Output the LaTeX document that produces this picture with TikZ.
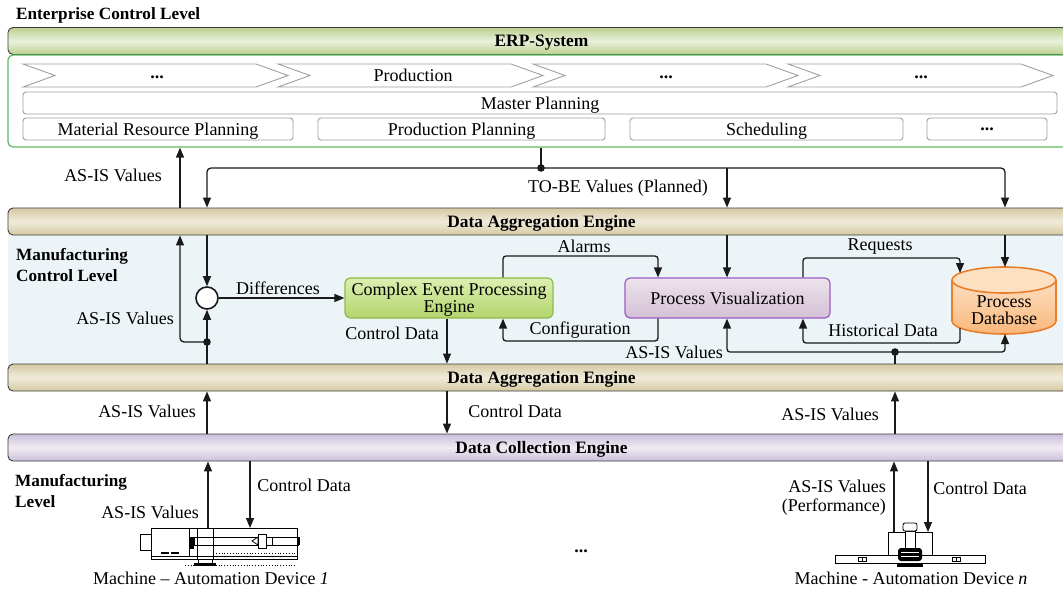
\documentclass[tikz,border=0pt]{standalone}
\usepackage{fontspec}
\setmainfont{Liberation Serif}
\usetikzlibrary{arrows.meta}
\definecolor{linec}{HTML}{1A1A1A}
\definecolor{erpA}{HTML}{BCD18F}
\definecolor{erpB}{HTML}{E9F0DA}
\definecolor{eclgreen}{HTML}{5DBB63}
\definecolor{daeA}{HTML}{D6CAA3}
\definecolor{daeB}{HTML}{F0EADA}
\definecolor{dceA}{HTML}{CBBFDA}
\definecolor{dceB}{HTML}{EFEBF4}
\definecolor{mcbg}{HTML}{EDF4F8}
\definecolor{cepA}{HTML}{DCEFB2}
\definecolor{cepB}{HTML}{B3D56C}
\definecolor{cepD}{HTML}{8DBB4A}
\definecolor{pvA}{HTML}{EDE3EC}
\definecolor{pvB}{HTML}{D3C1D6}
\definecolor{pvD}{HTML}{9B5BC6}
\definecolor{dbA}{HTML}{FDDFC2}
\definecolor{dbB}{HTML}{F9B77A}
\definecolor{dbD}{HTML}{E97E2C}
\definecolor{boxgray}{HTML}{A0A0A0}
\tikzset{
  bar/.style={draw=linec!85, line width=0.9pt, rounded corners=5pt, minimum width=1067pt,
    minimum height=27pt, inner sep=0pt, text depth=0pt, font=\bfseries\fontsize{17.4}{20}\selectfont},
  arr/.style={draw=linec, line width=1.3pt, -{Triangle[length=10pt,width=8pt]}},
  ln/.style={draw=linec, line width=1.3pt},
  lbl/.style={inner sep=0pt, text=black, text depth=0pt},
  mlbl/.style={inner sep=0pt, text=black, align=center, font=\fontsize{18}{17}\selectfont},
  blbl/.style={inner sep=0pt, text=black, font=\bfseries\fontsize{17.2}{21}\selectfont, align=left},
  pbox/.style={draw=boxgray, line width=0.9pt, rounded corners=3pt, fill=white,
    minimum height=22pt, inner sep=0pt, text depth=0pt},
  chev/.style={draw=boxgray, line width=0.9pt, fill=white},
  mach/.style={draw=black, line width=0.8pt},
}
\begin{document}
\begin{tikzpicture}[x=1pt,y=-1pt, font=\fontsize{18}{19}\selectfont]
\useasboundingbox (0,0) rectangle (1063,592);
\clip (0,0) rectangle (1063,592);

% column / row coordinates
\coordinate (x180) at (180,0);
\coordinate (x207) at (207,0);
\coordinate (x447) at (447,0);
\coordinate (x503) at (503,0);
\coordinate (x541) at (541,0);
\coordinate (x658) at (658,0);
\coordinate (x727) at (727,0);
\coordinate (x803) at (803,0);
\coordinate (x895) at (895,0);
\coordinate (x960) at (960,0);
\coordinate (x1005) at (1005,0);
\coordinate (y256) at (0,256);
\coordinate (y258) at (0,258);
\coordinate (y341) at (0,341);
\coordinate (y343) at (0,343);

% ---------------- Enterprise control level
\node[blbl, anchor=west, text depth=0pt] (ecltitle) at (16,14) {Enterprise Control Level};
\node[bar, top color=erpA, bottom color=erpA, middle color=erpB] (erp) at (541.5,41) {ERP-System};
\node[draw=eclgreen, line width=1.2pt, rounded corners=5pt, minimum width=1067pt,
      minimum height=92pt, inner sep=0pt] (ecl) at (541.5,101) {};

% chevrons
\foreach \L in {23,278,533,788}{
  \draw[chev] (\L,64) -- (\L+233,64) -- (\L+265,75.5) -- (\L+233,87) -- (\L,87) -- (\L+32,75.5) -- cycle;
}
\node[lbl] (ch1) at (157,77) {\textbf{...}};
\node[lbl] (ch2) at (413,75.5) {Production};
\node[lbl] (ch3) at (666,77) {\textbf{...}};
\node[lbl] (ch4) at (921,77) {\textbf{...}};

\node[pbox, minimum width=1034pt] (mp) at (540,103) {Master Planning};
\node[pbox, minimum width=270pt] (mrp) at (158,129) {Material Resource Planning};
\node[pbox, minimum width=287pt] (pp) at (461.5,129) {Production Planning};
\node[pbox, minimum width=273pt] (sch) at (766.5,129) {Scheduling};
\node[pbox, minimum width=120pt] (pdots) at (987,129) {\textbf{...}};

% ---------------- Manufacturing control level
\fill[mcbg] (8,235) rectangle (1075,364);
\node[bar, top color=daeA, bottom color=daeA, middle color=daeB] (dae1) at (541.5,221.5) {Data Aggregation Engine};
\node[bar, top color=daeA, bottom color=daeA, middle color=daeB] (dae2) at (541.5,377.5) {Data Aggregation Engine};
\node[bar, top color=dceA, bottom color=dceA, middle color=dceB] (dce) at (541.5,447.5) {Data Collection Engine};

\node[blbl, anchor=west] (mcl) at (16,265) {Manufacturing\\Control Level};

% AS-IS up to ERP, TO-BE down
\draw[arr] (x180 |- dae1.north) -- (x180 |- ecl.south);
\node[lbl] (l1) at (113,175) {AS-IS Values};
\coordinate (tobe) at (541,168);
\draw[ln] (x541 |- ecl.south) -- (tobe);
\draw[arr, rounded corners=4pt] (tobe) -| (x207 |- dae1.north);
\draw[arr, rounded corners=4pt] (tobe) -| (x1005 |- dae1.north);
\draw[arr] (x727 |- tobe) -- (x727 |- dae1.north);
\fill[linec] (tobe) circle (3.8);
\node[lbl] (l2) at (618,186) {TO-BE Values (Planned)};

% comparator
\node[circle, draw=linec, line width=1.6pt, minimum size=22pt, inner sep=0pt, fill=white] (cmp) at (207,298) {};
\draw[arr] (x207 |- dae1.south) -- (cmp.north);
\draw[arr] (x207 |- dae2.north) -- (cmp.south);
\coordinate (asis1) at (207,342);
\draw[arr, rounded corners=4pt] (asis1) -| (x180 |- dae1.south);
\fill[linec] (asis1) circle (3.8);
\node[lbl] (l3) at (125,318) {AS-IS Values};

% CEP
\node[draw=cepD, line width=1.2pt, rounded corners=5pt, top color=cepA, bottom color=cepB,
      minimum width=208pt, minimum height=40pt, inner sep=0pt, align=center, text depth=0pt,
      font=\fontsize{18}{17}\selectfont] (cep) at (449,298) {\raisebox{-2pt}{Complex Event Processing}\\Engine};
\draw[arr] (cmp.east) -- (cep.west);
\node[lbl] (l4) at (278,288) {Differences};
\draw[arr] (x447 |- cep.south) -- (x447 |- dae2.north);
\node[lbl] (l5) at (392,333) {Control Data};

% PV
\node[draw=pvD, line width=1.2pt, rounded corners=5pt, top color=pvA, bottom color=pvB,
      minimum width=205pt, minimum height=40pt, inner sep=0pt, text depth=0pt] (pv) at (727.5,298) {Process Visualization};
\draw[arr] (x727 |- dae1.south) -- (x727 |- pv.north);
\draw[arr, rounded corners=3pt] (x503 |- cep.north) |- (x658 |- y256) -- (x658 |- pv.north);
\node[lbl] (l6) at (584,246) {Alarms};
\draw[arr, rounded corners=3pt] (x658 |- pv.south) |- (x503 |- y341) -- (x503 |- cep.south);
\node[lbl] (l7) at (580,328) {Configuration};

% Database
\shade[top color=dbA, bottom color=dbB] (952,280) -- (952,321)
   arc[start angle=180, end angle=0, x radius=52, y radius=13] -- (1056,280) -- cycle;
\draw[dbD, line width=1.6pt] (952,280) -- (952,321)
   arc[start angle=180, end angle=0, x radius=52, y radius=13] -- (1056,280);
\filldraw[fill=dbA, draw=dbD, line width=1.6pt] (1004,280) ellipse [x radius=52, y radius=13];
\node[mlbl] (db) at (1004,310) {Process\\Database};
\coordinate (dbt1) at (960,273);
\coordinate (dbt2) at (1005,267);
\coordinate (dbb1) at (960,328);
\coordinate (dbb2) at (1005,334);

\draw[arr] (x1005 |- dae1.south) -- (dbt2);
\draw[arr, rounded corners=3pt] (x803 |- pv.north) |- (x960 |- y258) -- (dbt1);
\node[lbl] (l8) at (880,245) {Requests};
\draw[arr, rounded corners=3pt] (dbb1) |- (x803 |- y343) -- (x803 |- pv.south);
\node[lbl] (l9) at (883,330) {Historical Data};
\coordinate (asis2) at (895,352);
\draw[ln] (x895 |- dae2.north) -- (asis2);
\draw[arr, rounded corners=3pt] (asis2) -| (x727 |- pv.south);
\draw[arr, rounded corners=3pt] (asis2) -| (dbb2);
\fill[linec] (asis2) circle (3.8);
\node[lbl] (l10) at (674,352) {AS-IS Values};

% ---------------- between DAE2 and DCE
\draw[arr] (x207 |- dce.north) -- (x207 |- dae2.south);
\node[lbl] (l11) at (147,411) {AS-IS Values};
\draw[arr] (x447 |- dae2.south) -- (x447 |- dce.north);
\node[lbl] (l12) at (515,411) {Control Data};
\draw[arr] (x895 |- dce.north) -- (x895 |- dae2.south);
\node[lbl] (l13) at (830,414) {AS-IS Values};

% ---------------- Manufacturing level
\node[blbl, anchor=west] (ml) at (15,491) {Manufacturing\\Level};

% machine 1
\coordinate (m1a) at (208,528);
\coordinate (m1b) at (250,528);
\draw[arr] (m1a) -- (m1a |- dce.south);
\draw[arr] (m1b |- dce.south) -- (m1b);
\node[lbl] (l14) at (304,485) {Control Data};
\node[lbl] (l15) at (150,512) {AS-IS Values};
\draw[mach] (140,534) rectangle (151,550);
\draw[mach] (151,528) rectangle (297,559);
\draw[mach] (189,528) -- (189,556);
\draw[mach] (151,556) -- (297,556);
\fill (189,537) rectangle (194,549);
\draw[mach] (194,537) rectangle (298,545);
\fill (298,537) rectangle (300,545);
\draw[mach] (197,528) rectangle (213,559);
\draw[mach, fill=white] (258,534) rectangle (266,548);
\draw[mach] (266,537) rectangle (272,545);
\draw[mach] (252,541) -- (258,537) -- (258,545) -- cycle;
\fill (161,552) rectangle (169,554);
\fill (171,552) rectangle (179,554);
\draw[mach] (198,559) rectangle (212,563);
\fill (194,563) rectangle (216,566);
\draw[black, line width=0.8pt, dotted] (216,553) -- (295,553);
\draw[black, line width=0.8pt, dotted] (185,565) -- (295,565);
\node[lbl] (m1lbl) at (211,578) {Machine -- Automation Device \textit{1}};

% ellipsis between machines
\node[lbl] (mdots) at (581,551) {\textbf{...}};

% machine n
\coordinate (mna) at (894,532);
\coordinate (mnb) at (928,532);
\draw[arr] (mna) -- (mna |- dce.south);
\draw[arr] (mnb |- dce.south) -- (mnb);
\node[inner sep=0pt, align=right, anchor=east, font=\fontsize{18}{19}\selectfont] (l16) at (886,498) {AS-IS Values\\(Performance)};
\node[lbl] (l17) at (980,488) {Control Data};
\draw[mach] (835,555) rectangle (985,563);
\draw[mach] (858,557) rectangle (866,561);
\draw[mach] (862,557) -- (862,561);
\draw[mach] (952,557) rectangle (960,561);
\draw[mach] (956,557) -- (956,561);
\draw[mach] (888,532) rectangle (932,555);
\draw[mach, fill=white] (905,531) rectangle (915,548);
\draw[mach, fill=white, rounded corners=2pt] (903,523) rectangle (917,531);
\draw[white, line width=0.6pt] (904,527) -- (916,527);
\fill[black, rounded corners=3pt] (898,548) rectangle (922,561);
\draw[white, line width=0.7pt] (901,552) -- (919,552);
\draw[white, line width=0.7pt] (901,556) -- (919,556);
\fill (897,563) rectangle (923,567);
\node[lbl] (mnlbl) at (911,578) {Machine - Automation Device \textit{n}};
\end{tikzpicture}
\end{document}
